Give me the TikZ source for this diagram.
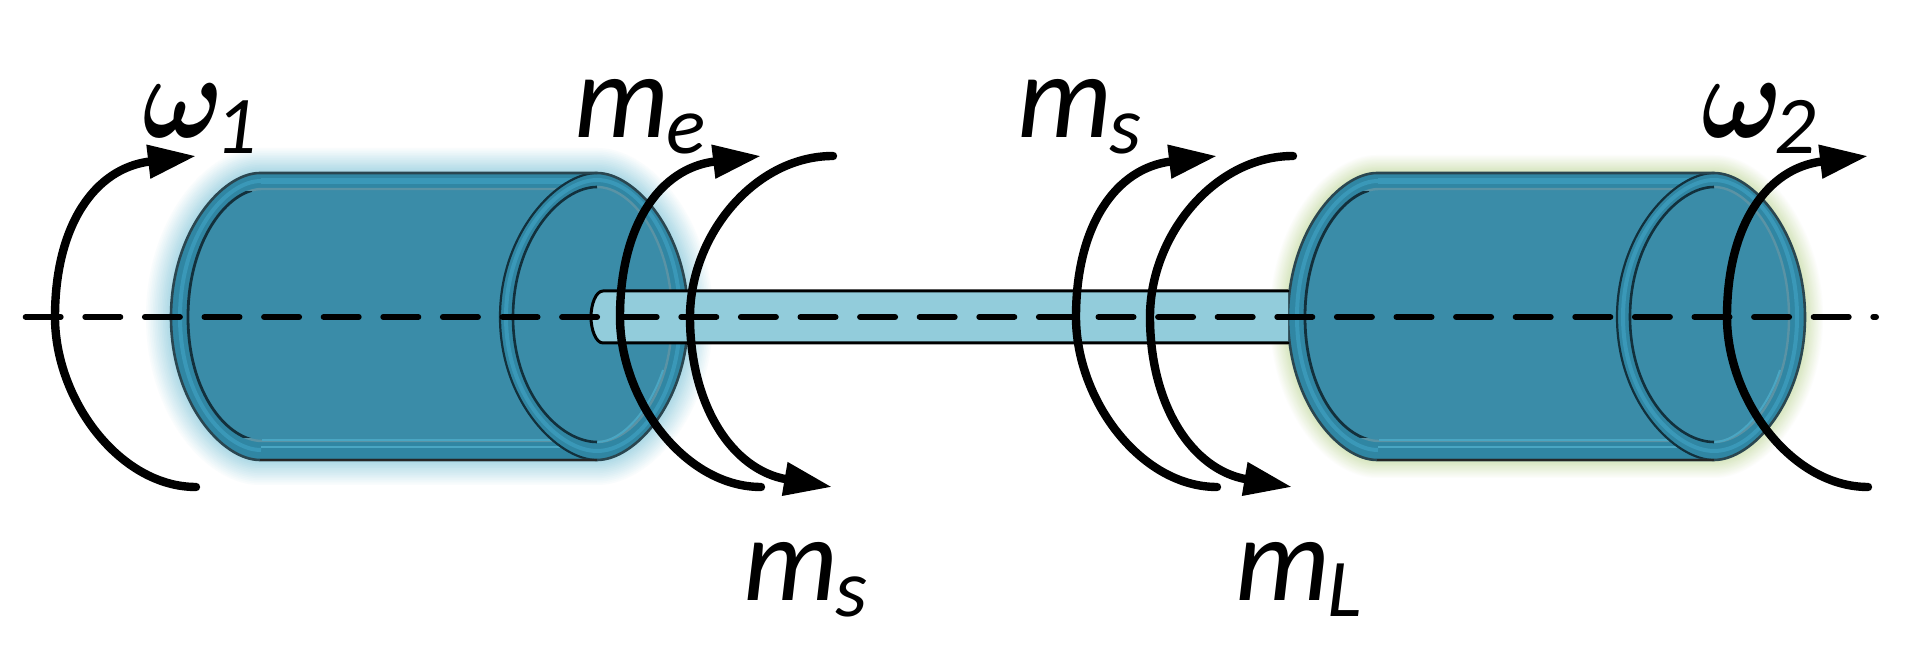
\documentclass[tikz,border=0pt]{standalone}
\usepackage{fontspec}
\setmainfont{Carlito}
\usetikzlibrary{arrows.meta}
\DeclareSymbolFont{boldletters}{OML}{cmm}{b}{it}
\DeclareMathSymbol{\bomega}{\mathord}{boldletters}{"21}
\definecolor{bodyc}{HTML}{3A8CA8}
\definecolor{rimc}{HTML}{3086A3}
\definecolor{stripec}{HTML}{3A98B8}
\definecolor{lightc}{HTML}{4AA6C3}
\definecolor{greyc}{HTML}{5A93A5}
\definecolor{edgec}{HTML}{2A4650}
\definecolor{inkc}{HTML}{12303C}
\definecolor{shaftc}{HTML}{92CCDB}
\definecolor{glowb}{HTML}{ABD8E5}
\definecolor{glowg}{HTML}{D6E5BE}
\newcommand{\lab}[2]{\fontsize{60}{60}\selectfont\itshape #1\hspace{-1pt}\raisebox{-8pt}{\fontsize{41}{41}\selectfont #2}}
\newcommand{\labw}[1]{\scalebox{5.4}[6]{$\bomega$}\hspace{-4pt}\raisebox{-8pt}{\fontsize{41}{41}\selectfont\itshape #1}}
% outer contour of the drum
\newcommand{\outline}{(260,173) -- (597,173) .. controls (635,173) and (688,232) .. (688,317) .. controls (688,402) and (635,460) .. (597,460) -- (260,460) .. controls (222,460) and (171,402) .. (171,317) .. controls (171,232) and (222,173) .. (260,173) -- cycle}
\newcommand{\backinner}{(600,189) -- (262,189) .. controls (228,189) and (188,240) .. (188,317) .. controls (188,394) and (228,441) .. (262,441) -- (600,441)}
\newcommand{\backmid}{(261,181) .. controls (225,181) and (180,236) .. (180,317) .. controls (180,398) and (225,450) .. (261,450)}
\newcommand{\capouter}{(597,173) .. controls (558,173) and (500,232) .. (500,317) .. controls (500,402) and (558,460) .. (597,460)}
\newcommand{\capinnerleft}{(597,187) .. controls (560,187) and (513,240) .. (513,317) .. controls (513,394) and (560,442) .. (597,442)}
\newcommand{\capinnerright}{(597,442) .. controls (632,442) and (672,394) .. (672,317) .. controls (672,240) and (632,187) .. (597,187)}
\newcommand{\capmid}{(597,180) .. controls (559,180) and (506,236) .. (506,317) .. controls (506,398) and (559,451) .. (597,451) .. controls (636,451) and (680,398) .. (680,317) .. controls (680,236) and (636,180) .. (597,180) -- cycle}
\newcommand{\cylinder}{%
  \fill[rimc] \outline;
  \draw[stripec, line width=2pt] \backmid;
  \draw[stripec, line width=3pt] (261,181) -- (597,181);
  \draw[lightc, line width=.8pt] (261,447) -- (597,447);
  \fill[bodyc] \backinner -- cycle;
  \draw[greyc, line width=1.2pt] \backinner;
  \begin{scope}
    \clip (150,192) rectangle (252,438);
    \draw[inkc, line width=1.4pt] \backinner;
  \end{scope}
  \draw[lightc, line width=1pt] (262,440) -- (600,440);
  \fill[rimc] \capouter .. controls (635,460) and (688,402) .. (688,317) .. controls (688,232) and (635,173) .. (597,173) -- cycle;
  \draw[stripec, line width=2pt] \capmid;
  \fill[bodyc] \capinnerleft .. controls (632,442) and (672,394) .. (672,317) .. controls (672,240) and (632,187) .. (597,187) -- cycle;
  \draw[greyc, line width=1.2pt] \capinnerright;
  \draw[lightc, line width=1pt] (597,442) .. controls (622,442) and (650,410) .. (663,370);
  \draw[inkc, line width=1.3pt] \capinnerleft;
  \draw[inkc, line width=1.1pt] \capouter;
  \draw[edgec, line width=1.3pt] \outline;
  \draw[black!85, line width=1.3pt] (260,460) -- (597,460);
}
\tikzset{
  x=0.5pt, y=-0.5pt,
  turn/.style={line width=4.2pt, line cap=round, -{Triangle[length=24pt,width=16pt]}},
  axis/.style={line width=3pt, line cap=round, dash pattern=on 17.5pt off 12.3pt},
  shaftline/.style={line width=1.5pt, line cap=round},
  label/.style={anchor=base west, inner sep=0pt, outer sep=0pt}
}
\begin{document}
\begin{tikzpicture}
\useasboundingbox (0,0) rectangle (1919,646);
\fill[white] (0,0) rectangle (1919,646);
% glow
\foreach \i in {0,...,14}{
  \pgfmathsetmacro\w{25-1.7*\i}
  \pgfmathsetmacro\m{(\i+1)/15*100}
  \draw[glowb!\m!white, line width=\w pt, line join=round] \outline;
  \begin{scope}[shift={(1117,0)}]
    \pgfmathsetmacro\wb{18-1.2*\i}
    \draw[glowg!\m!white, line width=\wb pt, line join=round] \outline;
  \end{scope}
}
\cylinder
\begin{scope}[shift={(1117,0)}]
  \cylinder
\end{scope}
% shaft
\coordinate (sTL) at (603,291);
\coordinate (sTR) at (1288,291);
\coordinate (sBL) at (603,343);
\coordinate (sBR) at (1288,343);
\coordinate (sL) at (591,317);
\fill[shaftc] (sTR) -- (sTL) .. controls (596,291) and (591,304) .. (sL) .. controls (591,330) and (596,343) .. (sBL) -- (sBR) -- cycle;
\draw[shaftline] (sTR) -- (sTL) .. controls (596,291) and (591,304) .. (sL) .. controls (591,330) and (596,343) .. (sBL) -- (sBR);
% axis
\coordinate (axL) at (25.7,317);
\coordinate (axR) at (1876,317);
\draw[axis] (axL) -- (axR);
% rotation arrows
\foreach \n/\x in {a/0,b/565,c/1021,d/1672}{
  \coordinate (\n B) at ({\x+196},487);
  \coordinate (\n L) at ({\x+55},317);
  \coordinate (\n T) at ({\x+196},156);
  \draw[turn] (\n B) .. controls ({\x+120},487) and ({\x+55},400) .. (\n L) .. controls ({\x+55},225) and ({\x+95},168) .. (\n T);
}
\foreach \n/\x in {e/0,f/460}{
  \coordinate (\n T) at ({\x+833},156);
  \coordinate (\n L) at ({\x+690},317);
  \coordinate (\n B) at ({\x+832},487);
  \draw[turn] (\n T) .. controls ({\x+755},156) and ({\x+690},235) .. (\n L) .. controls ({\x+690},405) and ({\x+732},470) .. (\n B);
}
% labels
\node[label] (w1) at (142,138) {\labw{1}};
\node[label] (me) at (574,138) {\lab{m}{e}};
\node[label] (ms1) at (1017,138) {\lab{m}{s}};
\node[label] (w2) at (1701,138) {\labw{2}};
\node[label] (ms2) at (743,601) {\lab{m}{s}};
\node[label] (mL) at (1235,601) {\lab{m}{L}};
\end{tikzpicture}
\end{document}
